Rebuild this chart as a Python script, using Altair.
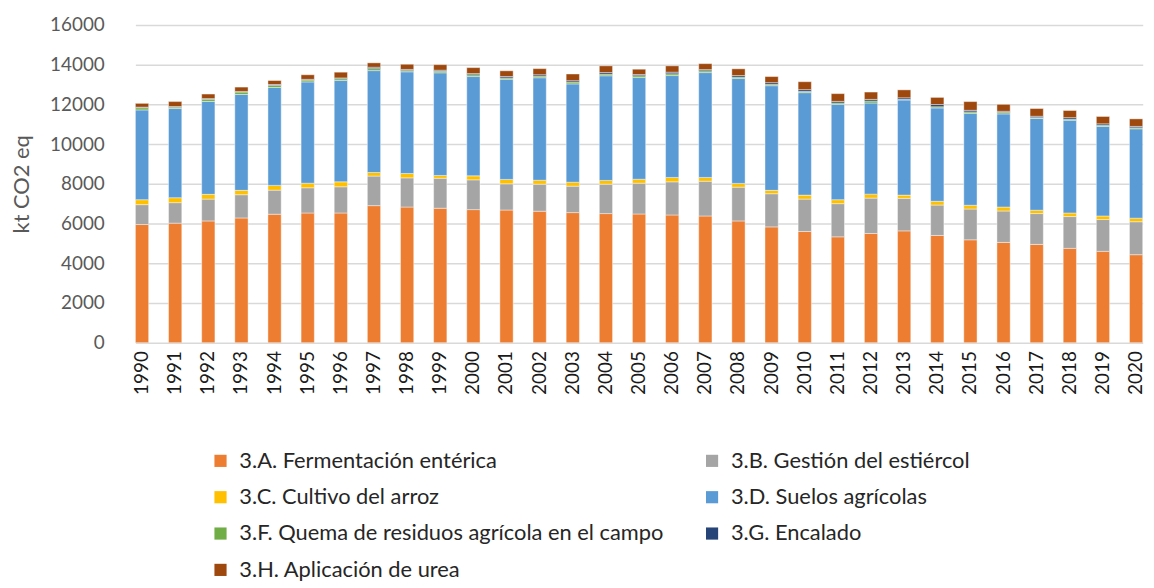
import altair as alt
import pandas as pd

years = [str(y) for y in range(1990, 2021)]

cats = [
    "3.A. Fermentación entérica",
    "3.B. Gestión del estiércol",
    "3.C. Cultivo del arroz",
    "3.D. Suelos agrícolas",
    "3.F. Quema de residuos agrícola en el campo",
    "3.G. Encalado",
    "3.H. Aplicación de urea",
]
colors = ["#ED7D31", "#A5A5A5", "#FFC000", "#5B9BD5", "#70AD47", "#264478", "#9E480E"]

a_ferm = [5950, 6020, 6130, 6280, 6470, 6530, 6530, 6900, 6830, 6770, 6700, 6680, 6620, 6550, 6500, 6480,
          6430, 6380, 6130, 5830, 5600, 5330, 5500, 5630, 5400, 5180, 5050, 4950, 4750, 4600, 4430]
b_estier = [1000, 1030, 1100, 1170, 1210, 1270, 1320, 1490, 1470, 1510, 1500, 1320, 1360, 1330, 1480, 1550,
            1670, 1750, 1700, 1670, 1630, 1670, 1780, 1640, 1530, 1550, 1580, 1550, 1600, 1600, 1660]
c_arroz = [250, 250, 240, 220, 240, 230, 250, 180, 220, 140, 200, 220, 200, 200, 190, 200,
           220, 190, 190, 170, 200, 200, 200, 160, 190, 190, 200, 170, 180, 180, 180]
d_suelos = [4520, 4490, 4680, 4830, 4930, 5100, 5100, 5130, 5120, 5170, 5000, 5050, 5160, 4950, 5270, 5120,
            5130, 5280, 5280, 5270, 5160, 4800, 4590, 4790, 4700, 4630, 4690, 4620, 4670, 4510, 4500]
f_quema = [110, 70, 110, 120, 100, 90, 90, 100, 60, 80, 90, 60, 80, 90, 80, 90,
           90, 90, 70, 60, 60, 70, 100, 30, 60, 70, 70, 40, 50, 60, 50]
g_encal = [30, 30, 30, 30, 50, 40, 40, 70, 60, 50, 60, 70, 70, 70, 80, 60,
           80, 60, 80, 90, 90, 80, 80, 80, 110, 80, 60, 70, 80, 70, 70]
h_urea = [190, 250, 230, 220, 200, 230, 290, 220, 260, 280, 300, 290, 310, 340, 340, 270,
          320, 300, 340, 310, 400, 390, 370, 400, 360, 440, 350, 390, 360, 370, 380]

series = [a_ferm, b_estier, c_arroz, d_suelos, f_quema, g_encal, h_urea]
rows = []
for ci, (cat, vals) in enumerate(zip(cats, series)):
    for y, v in zip(years, vals):
        rows.append({"year": y, "cat": cat, "idx": ci, "value": v})
df = pd.DataFrame(rows)

FONT = "Lato"

chart = alt.Chart(df).mark_bar(stroke="#ffffff", strokeWidth=0.6, strokeOpacity=0.7).encode(
    x=alt.X("year:N", sort=years, title=None,
            scale=alt.Scale(paddingInner=0.6, paddingOuter=0, range=[9.3, 1023.7]),
            axis=alt.Axis(labelAngle=-90, labelFontSize=19, labelColor="#1a1a1a", labelFont=FONT,
                          ticks=False, domain=False, labelPadding=8, labelBaseline="middle",
                          labelAlign="right")),
    y=alt.Y("value:Q", title="kt CO2 eq",
            scale=alt.Scale(domain=[0, 16000], nice=False),
            axis=alt.Axis(values=list(range(0, 16001, 2000)), format="d", labelFontSize=19,
                          labelColor="#595959",
                          labelFont=FONT, titleFont=FONT, titleFontSize=22, titleColor="#595959",
                          titleFontWeight="normal", ticks=False, domain=False, labelPadding=22,
                          gridColor="#D9D9D9", gridWidth=1.5, titlePadding=16)),
    color=alt.Color("cat:N", sort=cats, scale=alt.Scale(domain=cats, range=colors),
                    legend=alt.Legend(title=None, orient="none", legendX=84, legendY=428,
                                      columns=2, direction="horizontal",
                                      symbolType="square", symbolSize=150,
                                      symbolStrokeWidth=0, labelFontSize=22, labelFont=FONT,
                                      labelColor="#262626", rowPadding=14.6, columnPadding=37,
                                      labelLimit=700, symbolOffset=0, labelOffset=8)),
    order=alt.Order("idx:Q", sort="ascending"),
).properties(
    width=1027, height=320,
    autosize=alt.AutoSizeParams(type="none"),
    padding={"left": 119, "top": 15, "right": 0, "bottom": 245},
).configure_view(stroke=None)

chart.save("out.html", embed_options={"renderer": "svg", "actions": False})
